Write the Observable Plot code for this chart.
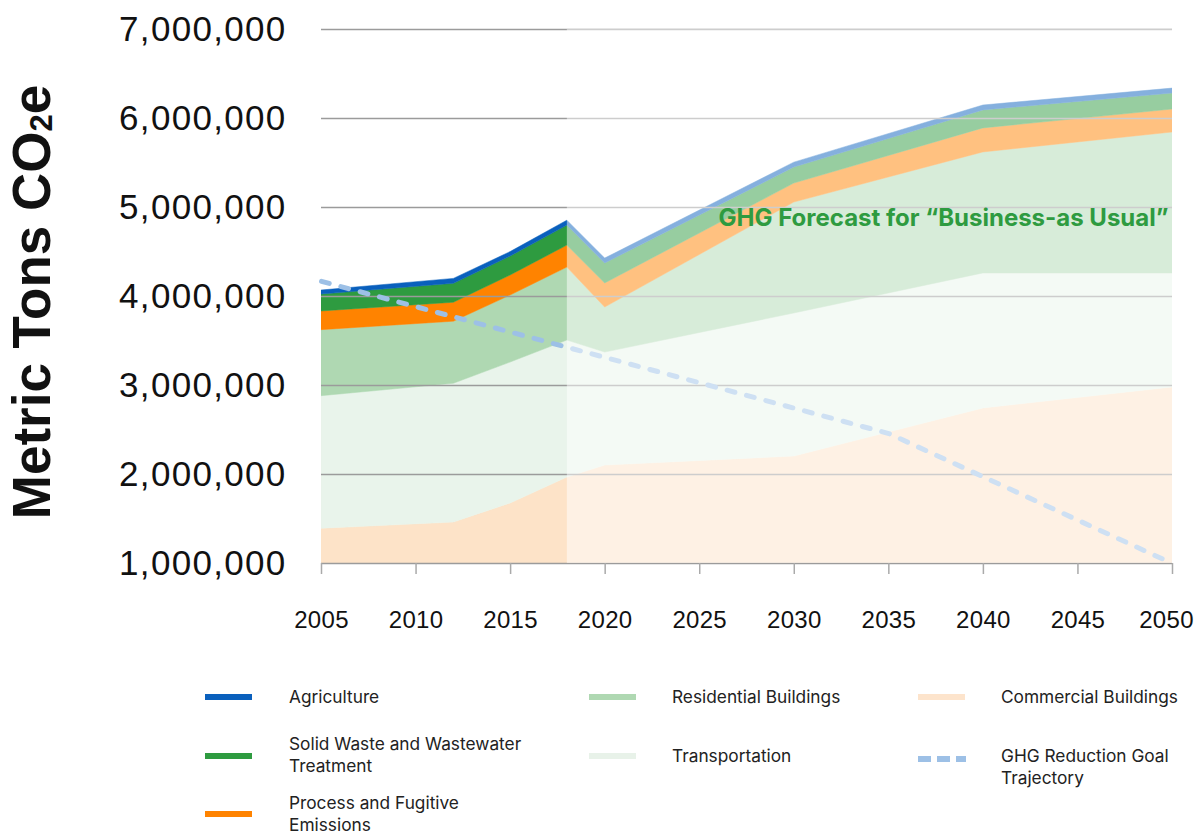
<!DOCTYPE html>
<html><head><meta charset="utf-8">
<script src="https://cdn.jsdelivr.net/npm/d3@7"></script>
<script src="https://cdn.jsdelivr.net/npm/@observablehq/plot@0.6"></script>
<style>
body{margin:0;background:#fff;width:1196px;height:834px;position:relative;overflow:hidden;font-family:Inter,"Liberation Sans",sans-serif}
#chart{position:absolute;left:0;top:0}
.lg{position:absolute;font-size:17.3px;color:#222;line-height:22px;white-space:nowrap}
.sw{position:absolute;width:47px;height:6px}
</style></head><body>
<div id="chart"></div>
<div id="legend"></div>
<script>
// ---- data ----
const years = [2005, 2012, 2015, 2018, 2020, 2030, 2040, 2050];
const sectors = ["Commercial Buildings", "Transportation", "Residential Buildings", "Process and Fugitive Emissions", "Solid Waste and Wastewater Treatment", "Agriculture"];
const commercial     = [1390000, 1460000, 1674000, 1966000, 2100000, 2202000, 2742000, 2978000];
const transportation = [1490000, 1560000, 1584000, 1539000, 1270000, 1607000, 1517000, 1281000];
const residential    = [742000, 697000, 753000, 820000, 506000, 1247000, 1360000, 1584000];
const processFugitive= [210000, 213000, 225000, 247000, 270000, 213000, 270000, 258000];
const solidWaste     = [190000, 213000, 213000, 225000, 225000, 180000, 202000, 180000];
const agriculture    = [45000, 55000, 50000, 55000, 55000, 55000, 55000, 55000];
const goalYears  = [2005, 2035, 2050];
const goalValues = [4170000, 2460000, 1000000];
const forecastStart = 2018, forecastEnd = 2050;
const xTicks = [2005, 2010, 2015, 2020, 2025, 2030, 2035, 2040, 2045, 2050];
const yTicks = [1000000, 2000000, 3000000, 4000000, 5000000, 6000000, 7000000];
const forecastLabel = "GHG Forecast for \u201cBusiness-as Usual\u201d";
const forecastLabelValue = 4876000;
const colors = ["#fde3c8", "#e9f4eb", "#afd8b2", "#ff8300", "#2e9b40", "#0a60bd"];
const goalColor = "#9dc0e6";

// ---- build table ----
const seriesValues = [commercial, transportation, residential, processFugitive, solidWaste, agriculture];
const rows = [];
sectors.forEach((s, i) => years.forEach((y, j) => rows.push({year: y, sector: s, value: seriesValues[i][j]})));
const goal = goalYears.map((y, i) => ({year: y, value: goalValues[i]}));

const plot = Plot.plot({
  width: 1196, height: 660,
  marginLeft: 321, marginRight: 24, marginTop: 29, marginBottom: 97,
  style: {fontFamily: "'Liberation Sans', Arial, sans-serif", background: "white", overflow: "visible"},
  x: {domain: [2005, 2050]},
  y: {domain: [1000000, 7000000]},
  color: {domain: sectors, range: colors},
  marks: [
    Plot.areaY(rows, {x: "year", y: "value", z: "sector", fill: "sector", stroke: "sector", strokeWidth: 0.5, order: sectors, clip: true}),
    Plot.ruleY(yTicks, {stroke: "#9b9b9b", strokeWidth: 1.3}),
    Plot.line(goal, {x: "year", y: "value", stroke: goalColor, strokeWidth: 5, strokeDasharray: "8,12", strokeLinecap: "round"}),
    Plot.rect([{}], {x1: forecastStart, x2: forecastEnd, y1: 1000000, y2: 7000000, fill: "white", fillOpacity: 0.5}),
    Plot.text([forecastLabel], {x: forecastEnd, y: forecastLabelValue, text: d => d, textAnchor: "end", dx: -4, fontSize: 24, fontWeight: "bold", fill: "#2e9b40", fontFamily: "Inter, Roboto, sans-serif"}),
    Plot.axisX({ticks: xTicks, tickFormat: d => String(d), tickSize: 11, tickPadding: 36, stroke: "#aaa", strokeWidth: 1.5, fontSize: 24, fill: "#111", label: null}),
    Plot.axisY({ticks: yTicks, tickFormat: d3.format(","), tickSize: 0, tickPadding: 35, fontSize: 35, fill: "#111", label: null})
  ]
});
document.getElementById("chart").appendChild(plot);
const svg = d3.select(plot);
const xl = svg.selectAll('[aria-label="x-axis tick label"] text').style("font-size", "24px").style("letter-spacing", "0.3px").attr("fill", "#111");
const xn = xl.nodes();
if (xn.length) d3.select(xn[xn.length - 1]).attr("dx", -6);
svg.selectAll('[aria-label="y-axis tick label"] text').style("font-size", "35px").style("letter-spacing", "1.3px").attr("fill", "#111");
// y-axis title with subscript
const t = svg.append("text")
  .attr("transform", "translate(50,302) rotate(-90)")
  .attr("text-anchor", "middle")
  .style("font-family", "'Liberation Sans', Arial, sans-serif")
  .style("font-weight", "bold").style("font-size", "53px").attr("fill", "#111");
t.append("tspan").text("Metric Tons CO");
t.append("tspan").text("2").style("font-size", "31px").attr("dy", "2");
t.append("tspan").text("e").attr("dy", "-2");

// ---- legend ----
document.getElementById("legend").innerHTML = `
<div class="sw" style="left:205px;top:694px;background:${colors[5]}"></div>
<div class="lg" style="left:289px;top:686px">Agriculture</div>
<div class="sw" style="left:205px;top:753px;background:${colors[4]}"></div>
<div class="lg" style="left:289px;top:733px">Solid Waste and Wastewater<br>Treatment</div>
<div class="sw" style="left:205px;top:811px;background:${colors[3]}"></div>
<div class="lg" style="left:289px;top:792px">Process and Fugitive<br>Emissions</div>
<div class="sw" style="left:589px;top:694px;background:${colors[2]}"></div>
<div class="lg" style="left:672px;top:686px">Residential Buildings</div>
<div class="sw" style="left:589px;top:753px;background:#e8f2e9"></div>
<div class="lg" style="left:672px;top:745px">Transportation</div>
<div class="sw" style="left:918px;top:694px;background:#fde4cc"></div>
<div class="lg" style="left:1001px;top:686px">Commercial Buildings</div>
<svg style="position:absolute;left:918px;top:755px" width="48" height="8"><line x1="0" y1="4" x2="48" y2="4" stroke="${goalColor}" stroke-width="6" stroke-dasharray="13,6"/></svg>
<div class="lg" style="left:1001px;top:745px">GHG Reduction Goal<br>Trajectory</div>
`;
</script>
</body></html>
